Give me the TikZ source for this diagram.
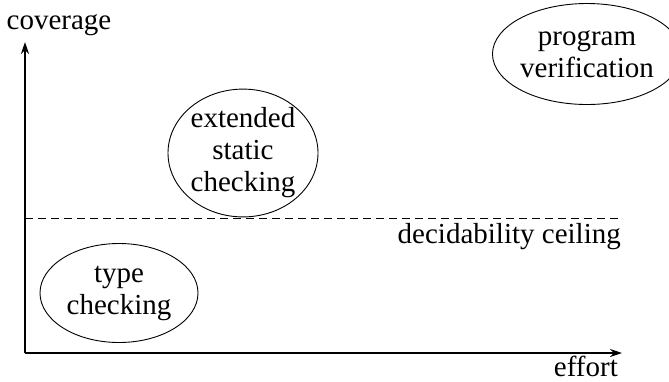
\documentclass[tikz,border=0pt]{standalone}
\usepackage{fontspec}
\setmainfont{Liberation Serif}
\usetikzlibrary{arrows.meta,shapes.geometric}
\tikzset{
  axis/.style={-{Stealth[length=12pt,width=8pt]},line width=1.8pt},
  area/.style={draw,ellipse,line width=.9pt,align=center,inner sep=0pt},
  ceil/.style={dashed,dash pattern=on 8pt off 5pt,line width=.9pt},
  lbl/.style={inner sep=0pt},
}

\begin{document}
\begin{tikzpicture}[x=1pt,y=-1pt,font=\fontsize{29}{32}\selectfont]
  \useasboundingbox (0,0) rectangle (669,381);
  % axes
  \coordinate (o) at (25,353);
  \coordinate (ytip) at (25,42);
  \coordinate (xtip) at (622,353);
  \draw[axis] (o) -- (ytip);
  \draw[axis] (o) -- (xtip);
  \node[lbl,anchor=base] (cov) at (59,29) {coverage};
  \node[lbl,anchor=base east] (eff) at (618,376) {effort};
  % ceiling
  \coordinate (cl) at (25,218);
  \coordinate (cr) at (622,218);
  \draw[ceil] (cl) -- (cr);
  \node[lbl,anchor=base east] (dec) at (621,243) {decidability ceiling};
  % techniques
  \node[area,minimum width=158pt,minimum height=99pt] (type) at (119,293) {type\\checking};
  \node[area,minimum width=150pt,minimum height=122pt] (esc) at (243,153) {extended\\static\\checking};
  \node[area,minimum width=160pt,minimum height=101pt] (pv) at (587,54) {program\\verification};
\end{tikzpicture}
\end{document}
